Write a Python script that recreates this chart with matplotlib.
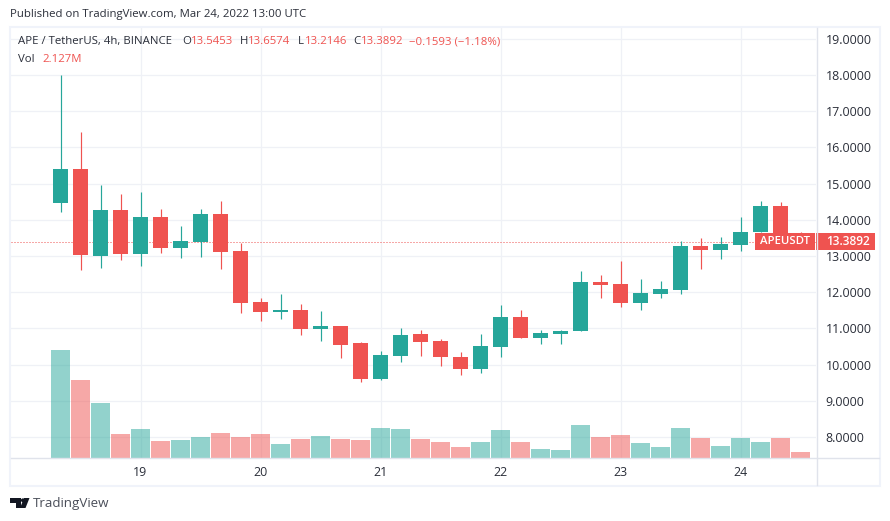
import matplotlib
matplotlib.use("Agg")
import matplotlib.pyplot as plt
from matplotlib.patches import Rectangle, Polygon, Circle

plt.rcParams['font.family'] = ['Open Sans', 'DejaVu Sans']

opens  = [14.47,15.40,13.00,14.27,13.06,14.08,13.23,13.39,14.16,13.14,11.73,11.46,11.51,10.99,11.07,10.60,9.61,10.24,10.85,10.66,10.22,9.89,10.49,11.32,10.74,10.85,10.93,12.29,12.23,11.71,11.95,12.07,13.28,13.17,13.31,13.67,14.38,13.5453]
closes = [15.40,13.03,14.27,13.06,14.08,13.23,13.42,14.16,13.11,11.71,11.46,11.51,10.99,11.07,10.55,9.61,10.27,10.82,10.63,10.22,9.89,10.52,11.32,10.74,10.88,10.93,12.29,12.20,11.71,11.98,12.09,13.28,13.17,13.34,13.67,14.38,13.55,13.3892]
highs  = [18.00,16.43,14.96,14.71,14.77,14.30,13.83,14.30,14.52,13.36,11.84,11.96,11.68,11.49,11.07,10.63,10.38,11.02,10.96,10.71,10.35,10.85,11.65,11.51,10.96,10.96,12.59,12.48,12.87,12.37,12.31,13.42,13.50,13.53,14.08,14.52,14.49,13.6574]
lows   = [14.22,12.62,12.67,12.89,12.73,13.09,12.95,12.98,12.65,11.43,11.21,11.27,10.82,10.66,10.19,9.53,9.58,10.08,10.24,9.97,9.72,9.77,10.22,10.74,10.58,10.58,10.93,11.84,11.60,11.51,11.84,11.95,12.65,12.92,13.14,13.67,13.55,13.2146]
volumes = [38.3,27.65,19.5,8.51,10.28,6.03,6.38,7.44,8.86,7.44,8.51,4.96,6.74,7.80,6.74,6.38,10.64,10.28,6.74,5.67,3.90,5.67,9.93,5.67,3.19,2.84,11.70,7.44,8.15,5.32,3.90,10.64,7.09,4.25,7.09,5.67,7.09,2.127]
price_ticks = [8,9,10,11,12,13,14,15,16,17,18,19]
day_positions = [4,10,16,22,28,34]
day_labels = ['19','20','21','22','23','24']
last_price = 13.3892

UP, DOWN = '#26a69a', '#ef5350'
GRID, BORDER, FRAME = '#eff1f6', '#e0e3eb', '#f0f3fa'
TEXT = '#2a2e39'
W, H = 890, 521

fig = plt.figure(figsize=(W/100, H/100), dpi=100, facecolor='white')

L, R, T, B = 11, 816.5, 28, 458
rect = [L/W, 1-B/H, (R-L)/W, (B-T)/H]
ax = fig.add_axes(rect, zorder=1)
ax.set_facecolor('white')
axv = fig.add_axes(rect, zorder=2)
axv.patch.set_alpha(0)

x_idx = list(range(len(opens)))
ax.set_xlim(-2.475, 37.8)
ax.set_ylim(7.425, 19.293)
axv.set_xlim(-2.475, 37.8)
axv.set_ylim(0, 152.4)

ax.set_axisbelow(True)
ax.grid(True, color=GRID, lw=0.9)
ax.set_yticks(price_ticks)
ax.set_yticklabels([f'{p:.4f}' for p in price_ticks])
ax.set_xticks(day_positions)
ax.set_xticklabels(day_labels)
ax.yaxis.tick_right()
ax.tick_params(axis='y', length=0, pad=6.6, labelsize=8.9, labelcolor=TEXT)
ax.tick_params(axis='x', length=0, pad=6.0, labelsize=8.9, labelcolor=TEXT)
for s in ('top', 'left', 'bottom', 'right'):
    ax.spines[s].set_visible(False)
axv.axis('off')

colors = [UP if c >= o else DOWN for o, c in zip(opens, closes)]
ax.axhline(last_price, color=DOWN, lw=0.72, ls=(0, (1, 2)), zorder=1.5)
wicks = ax.vlines(x_idx, lows, highs, colors=colors, lw=0.85, zorder=3)
wicks.set_snap(True)
ax.bar(x_idx, [abs(c-o) for o, c in zip(opens, closes)],
       bottom=[min(o, c) for o, c in zip(opens, closes)],
       width=0.75, color=colors, lw=0, zorder=4)
axv.bar(x_idx, volumes, width=0.95, color=colors, alpha=0.5, lw=0)

# page chrome in pixel coordinates
ov = fig.add_axes([0, 0, 1, 1], zorder=5)
ov.set_xlim(0, W)
ov.set_ylim(H, 0)
ov.axis('off')
ov.add_patch(Rectangle((10, 27), 870, 459, fill=False, ec=FRAME, lw=1.5))
ov.plot([L, 879], [458, 458], color=BORDER, lw=1.0)
ov.plot([816.5, 816.5], [28, 485], color=BORDER, lw=1.0)

FS = 8.2
ov.text(10, 15, 'Published on TradingView.com, Mar 24, 2022 13:00 UTC', fontsize=FS, color=TEXT, va='center')
ov.text(18, 41.5, 'APE / TetherUS, 4h, BINANCE', fontsize=FS, color=TEXT, va='center')
for x, s, c in [(182, 'O', TEXT), (191, '13.5453', DOWN), (240, 'H', TEXT), (248, '13.6574', DOWN),
                (298, 'L', TEXT), (305, '13.2146', DOWN), (353, 'C', TEXT), (361, '13.3892', DOWN),
                (409, '−0.1593 (−1.18%)', DOWN), (18, 'Vol', TEXT), (42, '2.127M', DOWN)]:
    y = 59 if s in ('Vol', '2.127M') else 41.5
    ov.text(x, y, s, fontsize=FS, color=c, va='center')

# last-price labels
ov.add_patch(Rectangle((755, 233), 60, 17, fc=DOWN, ec='none'))
ov.add_patch(Rectangle((816, 233), 59, 17, fc=DOWN, ec='none'))
ov.text(784.5, 241.5, 'APEUSDT', fontsize=8.2, color='white', ha='center', va='center', fontweight='semibold')
ov.text(826, 241.5, f'{last_price:.4f}', fontsize=8.6, color='white', ha='left', va='center', fontweight='semibold')

# TradingView logo
LOGO = '#131722'
ov.add_patch(Polygon([(10, 498), (21, 498), (21, 508), (16, 508), (16, 503), (10, 503)], fc=LOGO, ec='none'))
ov.add_patch(Circle((22.8, 500.3), 1.9, fc=LOGO, ec='none'))
ov.add_patch(Polygon([(24, 498), (29.5, 498), (25.5, 508), (20, 508)], fc=LOGO, ec='none'))
ov.text(33, 503.5, 'TradingView', fontsize=9.6, color='#4a4e59', va='center')

fig.savefig('out.png', dpi=100, facecolor='white')
